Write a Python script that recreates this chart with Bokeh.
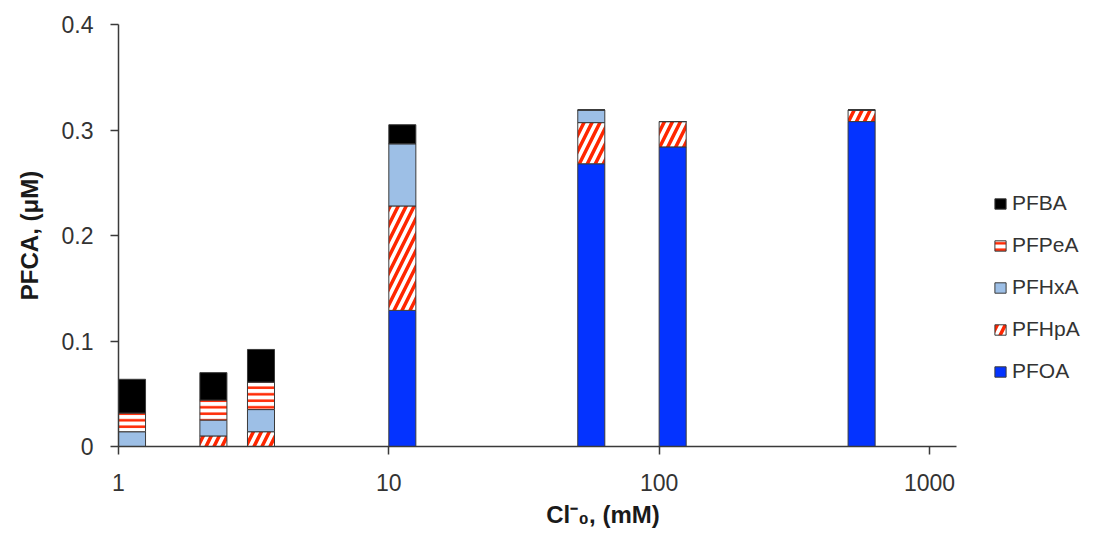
import numpy as np
from bokeh.plotting import figure
from bokeh.models import Range1d, FixedTicker, Legend, LegendItem, ColumnDataSource
from bokeh.embed import file_html
from bokeh.resources import INLINE

# ---- data ----
conc = [1, 2, 3, 10, 50, 100, 500]          # Cl-0 (mM)
series_names = ["PFOA", "PFHpA", "PFHxA", "PFPeA", "PFBA"]   # bottom -> top
PFOA  = [0.000, 0.000, 0.000, 0.129, 0.268, 0.284, 0.308]
PFHpA = [0.000, 0.010, 0.014, 0.099, 0.039, 0.024, 0.011]
PFHxA = [0.014, 0.015, 0.021, 0.059, 0.012, 0.000, 0.000]
PFPeA = [0.0177, 0.019, 0.026, 0.000, 0.000, 0.000, 0.000]
PFBA  = [0.032, 0.026, 0.031, 0.018, 0.000, 0.000, 0.000]
y_ticks = [0, 0.1, 0.2, 0.3, 0.4]
y_tick_labels = ["0", "0.1", "0.2", "0.3", "0.4"]
x_ticks = [1, 10, 100, 1000]
x_tick_labels = ["1", "10", "100", "1000"]

values = {"PFOA": PFOA, "PFHpA": PFHpA, "PFHxA": PFHxA, "PFPeA": PFPeA, "PFBA": PFBA}

RED = "#FF2600"
styles = {
    "PFOA":  dict(fill_color="#0433FF"),
    "PFHpA": dict(fill_color="white", hatch_pattern="/", hatch_color=RED, hatch_weight=3.5, hatch_scale=16),
    "PFHxA": dict(fill_color="#9DBFE6"),
    "PFPeA": dict(fill_color="white", hatch_pattern="-", hatch_color=RED, hatch_weight=2.5, hatch_scale=6.5),
    "PFBA":  dict(fill_color="black"),
}

FONT = "Liberation Sans"
TXT = "#333333"

W, H = 1087, 530
LEFT, TOP, BOTTOM = 118, 24, 77
axis_px = 838.0                 # visible axis length for 10^0 .. 10^3.1
frame_w = W - LEFT
x_end_exp = 3.1 * frame_w / axis_px

p = figure(width=W, height=H, x_axis_type="log",
           x_range=Range1d(1, 10 ** x_end_exp), y_range=Range1d(0, 0.4),
           output_backend="svg", toolbar_location=None,
           min_border_left=LEFT, min_border_right=0, min_border_top=TOP, min_border_bottom=BOTTOM)
p.outline_line_color = None
p.grid.visible = False
p.background_fill_color = "white"

x = np.array(conc, dtype=float)
left = x
right = x * 10 ** 0.1
bottom = np.zeros(len(conc))
renderers = {}
for name in series_names:
    v = np.array(values[name], dtype=float)
    src = ColumnDataSource(dict(left=left, right=right, bottom=bottom.copy(), top=bottom + v))
    r = p.quad(left="left", right="right", bottom="bottom", top="top", source=src,
               line_color="#3a3a3a", line_width=1, **styles[name])
    renderers[name] = r
    bottom = bottom + v

# axes
for ax in (p.xaxis[0], p.yaxis[0]):
    ax.axis_line_color = "#3a3a3a"
    ax.axis_line_width = 1.5
    ax.major_tick_line_color = "#3a3a3a"
    ax.major_tick_line_width = 1.5
    ax.major_tick_out = 8
    ax.major_tick_in = 0
    ax.minor_tick_out = 0
    ax.minor_tick_in = 0
    ax.major_label_text_font = FONT
    ax.major_label_text_font_size = "23px"
    ax.major_label_text_color = TXT
    ax.axis_label_text_font = FONT
    ax.axis_label_text_font_size = "24px"
    ax.axis_label_text_font_style = "bold"
    ax.axis_label_text_color = "#1a1a1a"

p.yaxis.ticker = FixedTicker(ticks=y_ticks)
p.yaxis.major_label_overrides = {t: l for t, l in zip(y_ticks, y_tick_labels)}
p.yaxis.major_label_standoff = 17
p.yaxis.axis_label = "PFCA, (μM)"
p.yaxis.axis_label_standoff = 16

p.xaxis.ticker = FixedTicker(ticks=x_ticks)
p.xaxis.major_label_overrides = {t: l for t, l in zip(x_ticks, x_tick_labels)}
p.xaxis.major_label_standoff = 19
p.xaxis.axis_label = "Cl\u207b\u2080, (mM)"
p.xaxis.axis_label_standoff = 7
p.xaxis.bounds = (1, 10 ** 3.1)

items = [LegendItem(label=n, renderers=[renderers[n]]) for n in reversed(series_names)]
legend = Legend(items=items, location=(875, 63), orientation="vertical",
                label_text_font=FONT, label_text_font_size="21px", label_text_color=TXT,
                glyph_width=14, glyph_height=13, label_height=24, spacing=18,
                label_standoff=5, padding=0, margin=0,
                border_line_color=None, background_fill_alpha=0)
p.add_layout(legend, "center")

open("out.html", "w").write(file_html(p, INLINE))
